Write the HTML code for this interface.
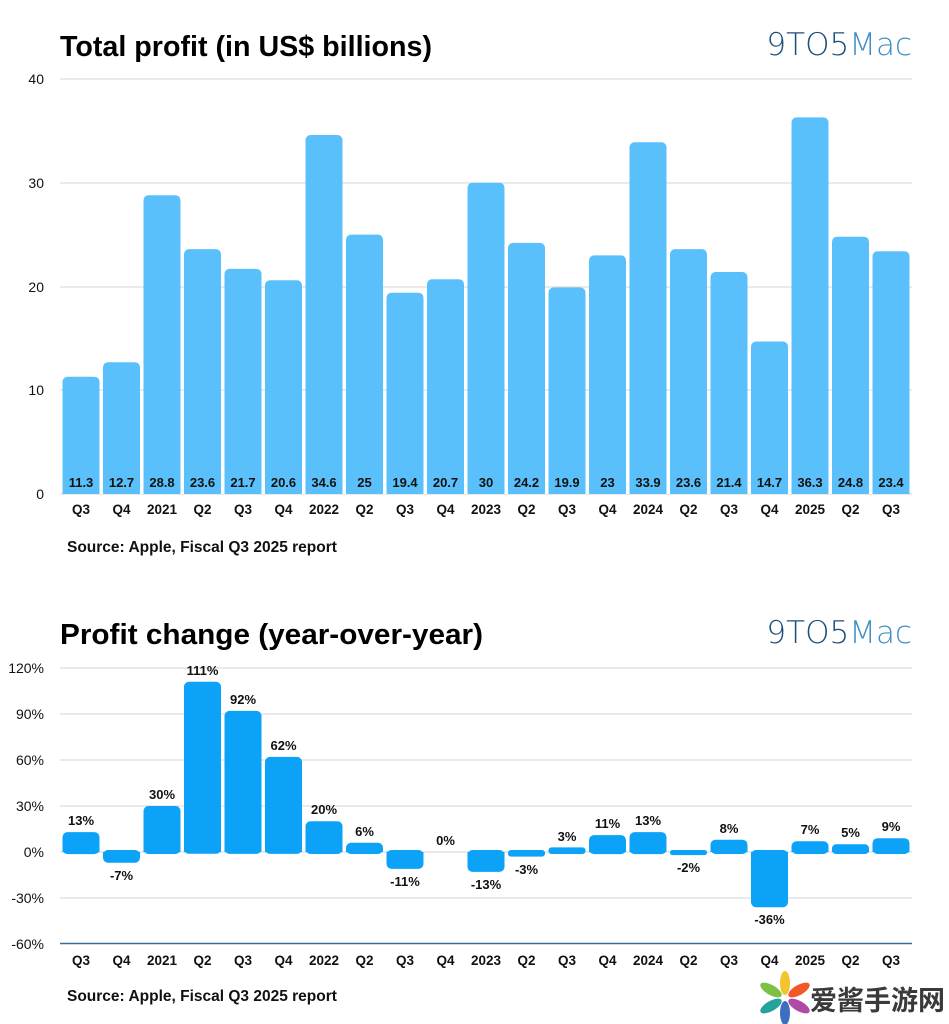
<!DOCTYPE html>
<html><head><meta charset="utf-8"><style>
body{margin:0;background:#fff;width:949px;height:1024px;overflow:hidden}
svg{display:block;font-family:"Liberation Sans",Arial,sans-serif}
.t{font-weight:bold;font-size:29px;fill:#000}
.ax{font-size:14px;fill:#111}
.c{font-size:13.5px;font-weight:bold;fill:#111;text-anchor:middle}
.v{font-size:13px;font-weight:bold;fill:#111;text-anchor:middle}
.s{font-size:15.5px;font-weight:bold;fill:#111}
.g{stroke:#d6d6d6;stroke-width:1}
</style></head><body>
<svg width="949" height="1024" viewBox="0 0 949 1024">
<text class="t" x="60" y="56" textLength="372" lengthAdjust="spacingAndGlyphs">Total profit (in US$ billions)</text>
<text x="912" y="55" text-anchor="end" font-size="31" font-family="DejaVu Sans,sans-serif" font-weight="300"><tspan fill="#1f4e79">9TO5</tspan><tspan fill="#3f8fc4">Mac</tspan></text>
<g class="g"><line x1="60" x2="912" y1="79" y2="79"/><line x1="60" x2="912" y1="183" y2="183"/><line x1="60" x2="912" y1="287" y2="287"/><line x1="60" x2="912" y1="390" y2="390"/><line x1="60" x2="912" y1="494" y2="494"/></g>
<g class="ax" text-anchor="end"><text x="44" y="84">40</text><text x="44" y="188">30</text><text x="44" y="292">20</text><text x="44" y="395">10</text><text x="44" y="499">0</text></g>
<g fill="#5ac0fb">
<rect x="62.5" y="376.8" width="37" height="117.2" rx="5"/>
<rect x="103" y="362.2" width="37" height="131.8" rx="5"/>
<rect x="143.5" y="195.2" width="37" height="298.8" rx="5"/>
<rect x="184" y="249.1" width="37" height="244.9" rx="5"/>
<rect x="224.5" y="268.9" width="37" height="225.1" rx="5"/>
<rect x="265" y="280.3" width="37" height="213.7" rx="5"/>
<rect x="305.5" y="135" width="37" height="359" rx="5"/>
<rect x="346" y="234.6" width="37" height="259.4" rx="5"/>
<rect x="386.5" y="292.7" width="37" height="201.3" rx="5"/>
<rect x="427" y="279.2" width="37" height="214.8" rx="5"/>
<rect x="467.5" y="182.7" width="37" height="311.3" rx="5"/>
<rect x="508" y="242.9" width="37" height="251.1" rx="5"/>
<rect x="548.5" y="287.5" width="37" height="206.5" rx="5"/>
<rect x="589" y="255.4" width="37" height="238.6" rx="5"/>
<rect x="629.5" y="142.3" width="37" height="351.7" rx="5"/>
<rect x="670" y="249.1" width="37" height="244.9" rx="5"/>
<rect x="710.5" y="272" width="37" height="222" rx="5"/>
<rect x="751" y="341.5" width="37" height="152.5" rx="5"/>
<rect x="791.5" y="117.4" width="37" height="376.6" rx="5"/>
<rect x="832" y="236.7" width="37" height="257.3" rx="5"/>
<rect x="872.5" y="251.2" width="37" height="242.8" rx="5"/>
<rect x="62.5" y="487" width="847" height="7"/>
</g>
<g fill="#fff"><rect x="99.5" y="480" width="3.5" height="14"/><rect x="140" y="480" width="3.5" height="14"/><rect x="180.5" y="480" width="3.5" height="14"/><rect x="221" y="480" width="3.5" height="14"/><rect x="261.5" y="480" width="3.5" height="14"/><rect x="302" y="480" width="3.5" height="14"/><rect x="342.5" y="480" width="3.5" height="14"/><rect x="383" y="480" width="3.5" height="14"/><rect x="423.5" y="480" width="3.5" height="14"/><rect x="464" y="480" width="3.5" height="14"/><rect x="504.5" y="480" width="3.5" height="14"/><rect x="545" y="480" width="3.5" height="14"/><rect x="585.5" y="480" width="3.5" height="14"/><rect x="626" y="480" width="3.5" height="14"/><rect x="666.5" y="480" width="3.5" height="14"/><rect x="707" y="480" width="3.5" height="14"/><rect x="747.5" y="480" width="3.5" height="14"/><rect x="788" y="480" width="3.5" height="14"/><rect x="828.5" y="480" width="3.5" height="14"/><rect x="869" y="480" width="3.5" height="14"/></g>
<g class="v">
<text x="81" y="487">11.3</text><text x="121.5" y="487">12.7</text><text x="162" y="487">28.8</text><text x="202.5" y="487">23.6</text><text x="243" y="487">21.7</text><text x="283.5" y="487">20.6</text><text x="324" y="487">34.6</text><text x="364.5" y="487">25</text><text x="405" y="487">19.4</text><text x="445.5" y="487">20.7</text><text x="486" y="487">30</text><text x="526.5" y="487">24.2</text><text x="567" y="487">19.9</text><text x="607.5" y="487">23</text><text x="648" y="487">33.9</text><text x="688.5" y="487">23.6</text><text x="729" y="487">21.4</text><text x="769.5" y="487">14.7</text><text x="810" y="487">36.3</text><text x="850.5" y="487">24.8</text><text x="891" y="487">23.4</text>
</g>
<g class="c">
<text x="81" y="514">Q3</text><text x="121.5" y="514">Q4</text><text x="162" y="514">2021</text><text x="202.5" y="514">Q2</text><text x="243" y="514">Q3</text><text x="283.5" y="514">Q4</text><text x="324" y="514">2022</text><text x="364.5" y="514">Q2</text><text x="405" y="514">Q3</text><text x="445.5" y="514">Q4</text><text x="486" y="514">2023</text><text x="526.5" y="514">Q2</text><text x="567" y="514">Q3</text><text x="607.5" y="514">Q4</text><text x="648" y="514">2024</text><text x="688.5" y="514">Q2</text><text x="729" y="514">Q3</text><text x="769.5" y="514">Q4</text><text x="810" y="514">2025</text><text x="850.5" y="514">Q2</text><text x="891" y="514">Q3</text>
</g>
<text class="s" x="67" y="552">Source: Apple, Fiscal Q3 2025 report</text>

<text class="t" x="60" y="644" textLength="423" lengthAdjust="spacingAndGlyphs">Profit change (year-over-year)</text>
<text x="912" y="643" text-anchor="end" font-size="31" font-family="DejaVu Sans,sans-serif" font-weight="300"><tspan fill="#1f4e79">9TO5</tspan><tspan fill="#3f8fc4">Mac</tspan></text>
<g class="g"><line x1="60" x2="912" y1="668" y2="668"/><line x1="60" x2="912" y1="714" y2="714"/><line x1="60" x2="912" y1="760" y2="760"/><line x1="60" x2="912" y1="806" y2="806"/><line x1="60" x2="912" y1="852" y2="852"/><line x1="60" x2="912" y1="898" y2="898"/></g>
<line x1="60" x2="912" y1="943.5" y2="943.5" stroke="#3d6f96" stroke-width="1.5"/>
<g class="ax" text-anchor="end"><text x="44" y="673">120%</text><text x="44" y="719">90%</text><text x="44" y="765">60%</text><text x="44" y="811">30%</text><text x="44" y="857">0%</text><text x="44" y="903">-30%</text><text x="44" y="949">-60%</text></g>
<g fill="#0ca2f8">
<rect x="62.5" y="832.1" width="37" height="22" rx="5"/>
<rect x="103" y="850" width="37" height="12.7" rx="5"/>
<rect x="143.5" y="806" width="37" height="48" rx="5"/>
<rect x="184" y="681.8" width="37" height="172" rx="5"/>
<rect x="224.5" y="710.9" width="37" height="143" rx="5"/>
<rect x="265" y="756.9" width="37" height="97" rx="5"/>
<rect x="305.5" y="821.3" width="37" height="32.7" rx="5"/>
<rect x="346" y="842.8" width="37" height="11.2" rx="5"/>
<rect x="386.5" y="850" width="37" height="18.9" rx="5"/>
<rect x="467.5" y="850" width="37" height="21.9" rx="5"/>
<rect x="508" y="850" width="37" height="6.6" rx="3"/>
<rect x="548.5" y="847.4" width="37" height="6.6" rx="3"/>
<rect x="589" y="835.1" width="37" height="19" rx="5"/>
<rect x="629.5" y="832.1" width="37" height="22" rx="5"/>
<rect x="670" y="850" width="37" height="5.1" rx="2.5"/>
<rect x="710.5" y="839.7" width="37" height="14.3" rx="5"/>
<rect x="751" y="850" width="37" height="57.2" rx="5"/>
<rect x="791.5" y="841.3" width="37" height="12.7" rx="5"/>
<rect x="832" y="844.3" width="37" height="9.7" rx="4"/>
<rect x="872.5" y="838.2" width="37" height="15.8" rx="5"/>
</g>
<g fill="#0ca2f8">
<rect x="62.5" y="848" width="37" height="4"/><rect x="103" y="852" width="37" height="4"/><rect x="143.5" y="848" width="37" height="4"/><rect x="184" y="848" width="37" height="4"/><rect x="224.5" y="848" width="37" height="4"/><rect x="265" y="848" width="37" height="4"/><rect x="305.5" y="848" width="37" height="4"/><rect x="346" y="848" width="37" height="4"/><rect x="386.5" y="852" width="37" height="4"/><rect x="467.5" y="852" width="37" height="4"/><rect x="508" y="852" width="37" height="2"/><rect x="548.5" y="850" width="37" height="2"/><rect x="589" y="848" width="37" height="4"/><rect x="629.5" y="848" width="37" height="4"/><rect x="670" y="852" width="37" height="1.5"/><rect x="710.5" y="848" width="37" height="4"/><rect x="751" y="852" width="37" height="4"/><rect x="791.5" y="848" width="37" height="4"/><rect x="832" y="848" width="37" height="4"/><rect x="872.5" y="848" width="37" height="4"/>
</g>
<g fill="#fff">
<rect x="0" y="852" width="949" height="0"/>
</g>
<g class="v">
<text x="81" y="825">13%</text><text x="121.5" y="880">-7%</text><text x="162" y="799">30%</text><text x="202.5" y="675">111%</text><text x="243" y="704">92%</text><text x="283.5" y="750">62%</text><text x="324" y="814">20%</text><text x="364.5" y="836">6%</text><text x="405" y="886">-11%</text><text x="445.5" y="845">0%</text><text x="486" y="889">-13%</text><text x="526.5" y="874">-3%</text><text x="567" y="841">3%</text><text x="607.5" y="828">11%</text><text x="648" y="825">13%</text><text x="688.5" y="872">-2%</text><text x="729" y="833">8%</text><text x="769.5" y="924">-36%</text><text x="810" y="834">7%</text><text x="850.5" y="837">5%</text><text x="891" y="831">9%</text>
</g>
<g class="c">
<text x="81" y="965">Q3</text><text x="121.5" y="965">Q4</text><text x="162" y="965">2021</text><text x="202.5" y="965">Q2</text><text x="243" y="965">Q3</text><text x="283.5" y="965">Q4</text><text x="324" y="965">2022</text><text x="364.5" y="965">Q2</text><text x="405" y="965">Q3</text><text x="445.5" y="965">Q4</text><text x="486" y="965">2023</text><text x="526.5" y="965">Q2</text><text x="567" y="965">Q3</text><text x="607.5" y="965">Q4</text><text x="648" y="965">2024</text><text x="688.5" y="965">Q2</text><text x="729" y="965">Q3</text><text x="769.5" y="965">Q4</text><text x="810" y="965">2025</text><text x="850.5" y="965">Q2</text><text x="891" y="965">Q3</text>
</g>
<text class="s" x="67" y="1001">Source: Apple, Fiscal Q3 2025 report</text>

<g transform="translate(785,998)">
<ellipse cx="0" cy="-15" rx="5" ry="12" fill="#f5c32c"/>
<ellipse cx="0" cy="15" rx="5" ry="12" fill="#3d6fc0"/>
<ellipse cx="-14" cy="-8" rx="5" ry="12" transform="rotate(-60 -14 -8)" fill="#7cc143"/>
<ellipse cx="14" cy="-8" rx="5" ry="12" transform="rotate(60 14 -8)" fill="#f0582a"/>
<ellipse cx="-14" cy="8" rx="5" ry="12" transform="rotate(60 -14 8)" fill="#23a39a"/>
<ellipse cx="14" cy="8" rx="5" ry="12" transform="rotate(-60 14 8)" fill="#b04aa5"/>
</g>
<text x="810" y="1010" font-size="27" font-weight="bold" fill="#3a3a3a" font-family="'Liberation Sans','Noto Sans CJK SC',sans-serif">爱酱手游网</text>
</svg>
</body></html>
